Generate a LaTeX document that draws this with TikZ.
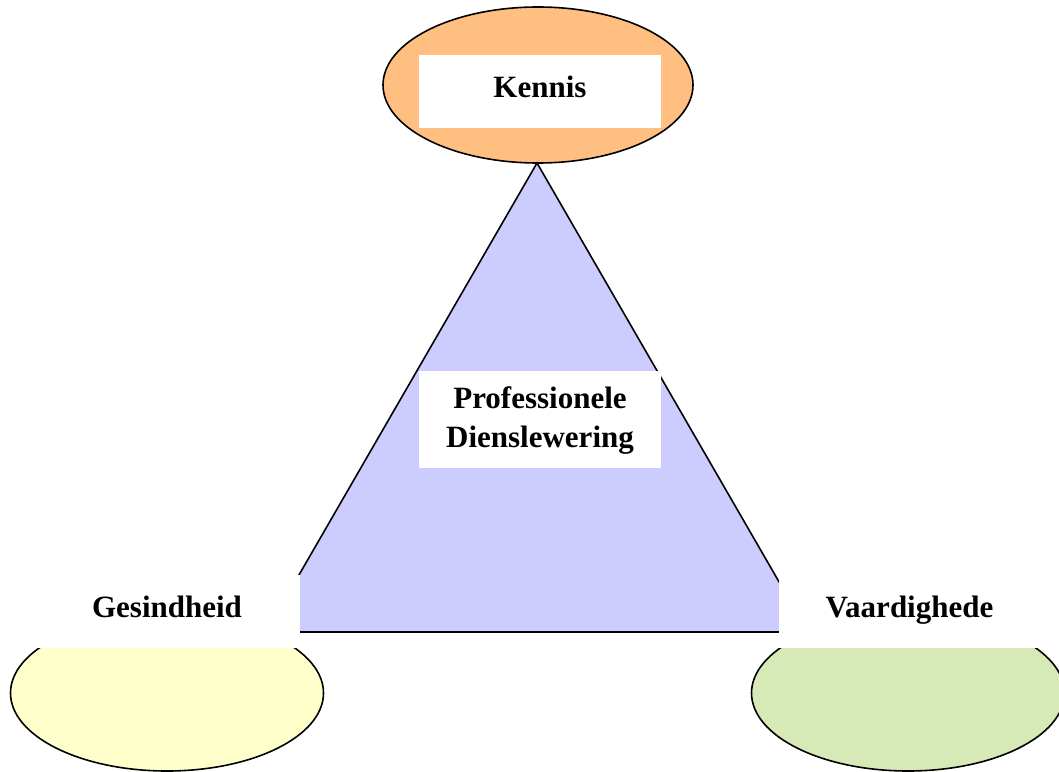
\documentclass[tikz,border=0pt]{standalone}
\usepackage{fontspec}
\setmainfont{Liberation Serif}
\usetikzlibrary{shapes.geometric}
\definecolor{kenniscol}{HTML}{FFBF80}
\definecolor{tricol}{HTML}{CCCCFF}
\definecolor{gescol}{HTML}{FFFFCC}
\definecolor{vaarcol}{HTML}{D7E9B6}
\begin{document}
\begin{tikzpicture}[x=1pt,y=-1pt,
  oval/.style={ellipse,draw=black,line width=1.6pt,inner sep=0pt,minimum width=312pt,minimum height=156pt},
  whitebox/.style={fill=white,draw=none,inner sep=0pt},
  lbl/.style={font=\fontsize{31}{38}\selectfont\bfseries,align=center,inner sep=0pt}]
\useasboundingbox (0,0) rectangle (1059,771);
\clip (0,0) rectangle (1059,771);
% ellipses
\node[oval,fill=kenniscol,minimum width=310pt] (kennis) at (538,85) {};
\node[oval,fill=gescol,minimum width=313pt] (ges) at (167,693) {};
\node[oval,fill=vaarcol,minimum width=313pt] (vaar) at (908,693) {};
% triangle
\coordinate (apex) at (537,163);
\coordinate (bl) at (266,632);
\coordinate (br) at (808,632);
\draw[fill=tricol,line width=1.6pt,line join=miter] (apex) -- (bl) -- (br) -- cycle;
% white boxes
\node[whitebox,minimum width=242pt,minimum height=73pt] (kbox) at (540,91.5) {};
\node[whitebox,minimum width=242pt,minimum height=97pt] (pbox) at (540,419.5) {};
\node[whitebox,minimum width=300pt,minimum height=73pt] (gbox) at (150,611.5) {};
\node[whitebox,minimum width=290pt,minimum height=73pt] (vbox) at (924,611.5) {};
% labels
\node[lbl,anchor=base] (ktext) at (540,97) {Kennis};
\node[lbl,anchor=base] (ptext1) at (540,408) {Professionele};
\node[lbl,anchor=base] (ptext2) at (540,447) {Dienslewering};
\node[lbl,anchor=base] (gtext) at (167,617) {Gesindheid};
\node[lbl,anchor=base] (vtext) at (909.5,617) {Vaardighede};
\end{tikzpicture}
\end{document}
